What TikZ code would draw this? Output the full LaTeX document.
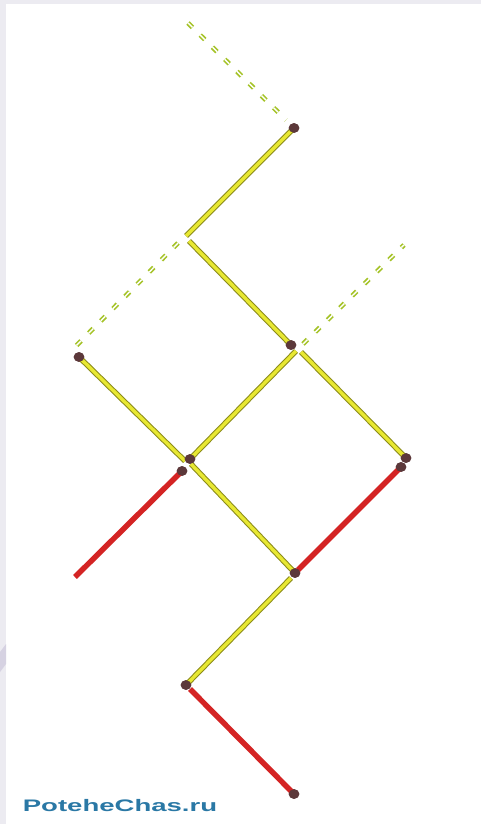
\documentclass[tikz,border=0pt]{standalone}
\usepackage{fontspec}
\setsansfont{Liberation Sans}
\definecolor{stickyellow}{RGB}{232,232,50}
\definecolor{stickedge}{RGB}{140,140,25}
\definecolor{stickred}{RGB}{212,36,36}
\definecolor{headbrown}{RGB}{92,56,58}
\definecolor{ghostgreen}{RGB}{165,195,40}
\definecolor{sitetext}{RGB}{42,120,165}
\definecolor{edgegray}{RGB}{236,235,241}
\definecolor{wedgegray}{RGB}{214,210,226}
\begin{document}
\begin{tikzpicture}[x=0.02cm, y=-0.02cm,
    match/.style={draw=stickedge, line width=0.6pt, double=stickyellow, double distance=1.9pt},
    redmatch/.style={draw=stickred, line width=3.1pt},
    ghost/.style={draw=ghostgreen, line width=0.95pt, double=white, double distance=0.8pt,
                  dash pattern=on 3.6pt off 6.2pt},
    head/.style={circle, fill=headbrown, inner sep=0pt, minimum size=5.6pt}]
    % background and grey edges
    \fill[white] (0,0) rectangle (481,824);
    \fill[edgegray] (0,0) rectangle (6,824);
    \fill[edgegray] (0,0) rectangle (481,4);
    \fill[wedgegray] (0,652) -- (6,644) -- (6,664) -- (0,672) -- cycle;

    % free ends of the sticks
    \coordinate (g1a) at (188,23);  \coordinate (g1b) at (286,120);
    \coordinate (g2a) at (178,243); \coordinate (g2b) at (74,348);
    \coordinate (g3a) at (303,344); \coordinate (g3b) at (404,245);
    \coordinate (ta) at (186,236);  \coordinate (tb) at (189,241);
    \coordinate (tc) at (185,461);  \coordinate (td) at (296,351);
    \coordinate (te) at (301,352);  \coordinate (tf) at (75,577);
    \coordinate (tg) at (191,464);  \coordinate (th) at (298,570);
    \coordinate (ti) at (291,578);  \coordinate (tj) at (190,689);

    % heads
    \node[head] (h1)  at (294,128) {};
    \node[head] (h2)  at (291,345) {};
    \node[head] (h3)  at (79,357)  {};
    \node[head] (h4)  at (190,459) {};
    \node[head] (h5)  at (406,458) {};
    \node[head] (h6)  at (182,471) {};
    \node[head] (h7)  at (401,467) {};
    \node[head] (h8)  at (295,573) {};
    \node[head] (h9)  at (186,685) {};
    \node[head] (h10) at (294,794) {};

    % removed sticks
    \draw[ghost] (g1a) -- (g1b);
    \draw[ghost] (g2a) -- (g2b);
    \draw[ghost] (g3a) -- (g3b);

    % yellow sticks
    \draw[match] (h1.center) -- (ta);
    \draw[match] (tb) -- (h2.center);
    \draw[match] (h3.center) -- (tc);
    \draw[match] (td) -- (h4.center);
    \draw[match] (te) -- (h5.center);
    \draw[match] (tg) -- (h8.center);
    \draw[match] (ti) -- (h9.center);

    % red sticks
    \draw[redmatch] (h6.center) -- (tf);
    \draw[redmatch] (h7.center) -- (th);
    \draw[redmatch] (tj) -- (h10.center);

    % heads on top
    \foreach \h in {h1,h2,h3,h4,h5,h6,h7,h8,h9,h10}
      \fill[headbrown] (\h) ellipse (3.1pt and 2.7pt);

    \node[anchor=center, xscale=1.65, text=sitetext, font=\sffamily\bfseries\fontsize{9.5}{11}\selectfont]
      (site) at (120,806) {PoteheChas.ru};
\end{tikzpicture}
\end{document}
